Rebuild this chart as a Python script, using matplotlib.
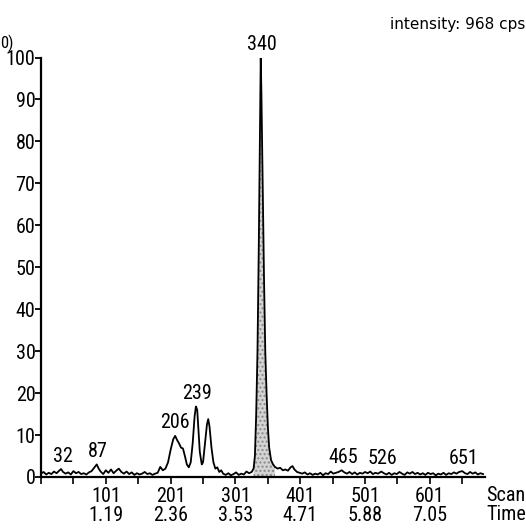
import numpy as np
import matplotlib
matplotlib.use("Agg")
import matplotlib.pyplot as plt

# chromatogram: scan number vs relative intensity (%)
scans = [1, 5, 9, 13, 17, 21, 25, 29, 32, 35, 39, 43, 47, 51, 55, 59, 63, 67, 71, 75,
         79, 83, 87, 90, 93, 97, 101, 105, 109, 113, 117, 121, 125, 129, 133, 137, 141,
         145, 149, 153, 157, 161, 165, 169, 173, 177, 181, 185, 189, 193, 197, 201, 205,
         208, 211, 214, 217, 220, 223, 226, 229, 232, 235, 238, 240, 242, 244, 246, 249,
         251, 254, 257, 259, 261, 264, 267, 270, 273, 276, 279, 282, 286, 290, 294, 298,
         302, 306, 310, 314, 318, 322, 326, 329, 331, 333, 335, 337, 339, 340, 341, 343,
         345, 347, 349, 351, 353, 356, 359, 362, 366, 370, 374, 378, 382, 386, 389, 392,
         396, 400, 404, 408, 412, 416, 420, 424, 428, 432, 436, 440, 444, 448, 452, 456,
         460, 465, 469, 473, 477, 481, 485, 489, 493, 497, 501, 505, 509, 513, 517, 521,
         526, 530, 534, 538, 542, 546, 550, 554, 558, 562, 566, 570, 574, 578, 582, 586,
         590, 594, 598, 602, 606, 610, 614, 618, 622, 626, 630, 634, 638, 642, 646, 651,
         655, 659, 663, 667, 671, 675, 679, 683]
intensity = [0.8, 1.2, 0.6, 1.0, 0.7, 1.3, 0.9, 1.5, 1.9, 1.2, 0.8, 1.1, 0.6, 1.4, 0.9, 1.2,
             0.7, 0.9, 0.6, 1.1, 1.4, 2.2, 3.0, 2.0, 1.3, 0.7, 1.6, 1.0, 1.8, 0.9, 1.5, 2.0,
             1.2, 0.8, 1.3, 0.7, 1.1, 0.5, 0.9, 0.6, 0.8, 1.2, 0.7, 0.9, 0.5, 0.8, 1.0, 2.4,
             1.6, 2.0, 3.5, 6.5, 9.0, 9.8, 8.8, 8.0, 7.0, 6.8, 5.0, 3.0, 2.3, 3.5, 8.0, 14.5,
             16.8, 16.0, 11.0, 6.0, 3.0, 3.5, 8.0, 12.5, 13.8, 12.0, 7.0, 3.5, 2.0, 2.3, 1.2,
             1.6, 0.8, 0.5, 0.9, 0.4, 0.7, 1.1, 0.5, 0.8, 0.6, 1.3, 0.9, 1.2, 2.0, 5.0, 15,
             30, 55, 85, 100, 92, 70, 48, 30, 20, 12, 7, 4, 3.0, 2.4, 2.0, 2.2, 1.6, 1.8, 1.5,
             2.3, 2.6, 1.8, 1.2, 1.0, 0.8, 1.1, 0.6, 0.9, 0.5, 0.8, 0.6, 1.0, 0.4, 0.9, 0.7,
             1.3, 0.8, 1.0, 1.2, 1.6, 1.1, 0.8, 1.2, 0.7, 1.1, 0.6, 1.0, 0.8, 1.2, 0.9, 1.3,
             0.7, 1.0, 0.8, 1.3, 0.9, 0.6, 1.0, 0.5, 0.9, 0.7, 1.2, 0.8, 0.5, 1.1, 0.8, 1.2,
             0.7, 1.0, 0.6, 0.9, 0.5, 1.0, 0.7, 0.9, 0.4, 0.8, 0.6, 1.0, 0.5, 0.9, 0.7, 1.1,
             0.8, 1.2, 1.4, 0.9, 0.7, 1.2, 0.8, 1.1, 0.6, 0.9, 0.7]

peak_labels = [32, 87, 206, 239, 340, 465, 526, 651]
filled_peak = (327, 364)   # scan range of the shaded 340 peak

tick_scans = [101, 201, 301, 401, 501, 601]
tick_times = ["1.19", "2.36", "3.53", "4.71", "5.88", "7.05"]
yticks = [0, 10, 20, 30, 40, 50, 60, 70, 80, 90, 100]

# narrow sans like the original print; first one found wins
plt.rcParams['font.family'] = ['Roboto Condensed', 'PT Sans Narrow', 'Archivo Narrow',
                               'Liberation Sans Narrow', 'Open Sans Condensed',
                               'DejaVu Sans']
FS = 14.5

scans = np.array(scans)
intensity = np.array(intensity, dtype=float)

fig = plt.figure(figsize=(5.26, 5.28), dpi=100)
ax = fig.add_axes([41 / 526, 51 / 528, 444 / 526, 419.5 / 528])

# shaded peak
mask = (scans >= filled_peak[0]) & (scans <= filled_peak[1])
ax.fill_between(scans[mask], 0, intensity[mask], facecolor="#d4d4d4",
                edgecolor="#888888", hatch="....", linewidth=0)
ax.plot(scans, intensity, color="black", lw=1.3)

# peak labels, just above the local maximum
for p in peak_labels:
    near = np.abs(scans - p) <= 4
    top = intensity[near].max()
    ax.annotate(str(p), (p, top), xytext=(1, 2.5), textcoords="offset points",
                ha="center", va="bottom", fontsize=FS)

ax.set_xlim(1, 686)
ax.set_ylim(0, 100)
for s in ["top", "right"]:
    ax.spines[s].set_visible(False)
ax.spines["left"].set_linewidth(1.6)
ax.spines["bottom"].set_linewidth(1.6)

ax.set_yticks(yticks)
ax.set_yticklabels([str(v) for v in yticks], fontsize=FS)
ax.tick_params(axis="y", length=4, width=1.3, pad=0)

ax.set_xticks(np.arange(1, 686, 50), minor=True)
ax.set_xticks(tick_scans)
ax.set_xticklabels([f"{s}\n{t}" for s, t in zip(tick_scans, tick_times)],
                   fontsize=FS, linespacing=1.0)
ax.tick_params(axis="x", which="both", length=5, width=1.2, pad=2)

fig.text(486 / 526, 1 - 486 / 528, "Scan\nTime", ha="left", va="top",
         fontsize=FS, linespacing=1.0)
fig.text(525 / 526, 1 - 24 / 528, "intensity: 968 cps", ha="right", va="center",
         fontsize=11, family="DejaVu Sans")
fig.text(0, 1 - 43 / 528, "0)", ha="left", va="center", fontsize=12)

fig.savefig("out.png", dpi=100)
